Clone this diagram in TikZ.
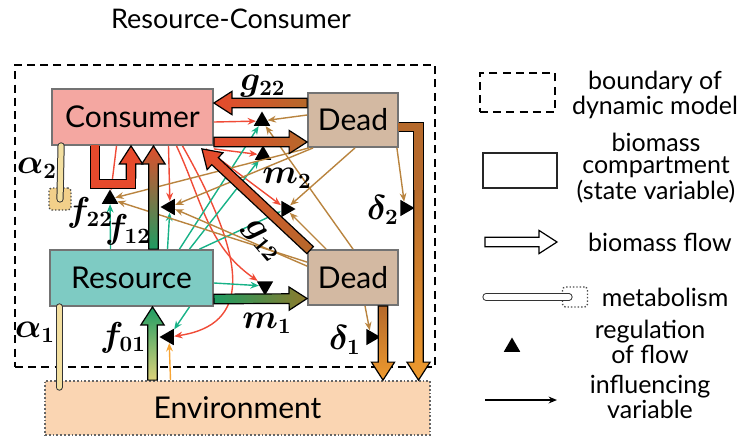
\documentclass[tikz,border=0pt]{standalone}
\usepackage{fontspec}
\setmainfont{Lato}
\usetikzlibrary{arrows.meta,calc,shapes.geometric}

\definecolor{conspink}{HTML}{F4A7A1}
\definecolor{deadtan}{HTML}{D3B9A2}
\definecolor{resteal}{HTML}{7ECBC3}
\definecolor{envorange}{HTML}{FAD5B2}
\definecolor{infred}{HTML}{F04B37}
\definecolor{infgreen}{HTML}{17B287}
\definecolor{infbrown}{HTML}{B9843F}
\definecolor{inforange}{HTML}{F7A535}
\definecolor{flowred}{HTML}{E64A2C}
\definecolor{flowbrown}{HTML}{B5692B}
\definecolor{flowgreen}{HTML}{1E9C62}
\definecolor{flowolive}{HTML}{8E7A2C}
\definecolor{flowamber}{HTML}{EE9A2E}
\definecolor{flowpale}{HTML}{DDD27A}
\definecolor{metayellow}{HTML}{F3DFA0}
\definecolor{metablob}{HTML}{F2D08A}

\tikzset{
  comp/.style={draw=black!55, line width=0.9pt, inner sep=0pt,
    font=\fontsize{15}{18}\selectfont},
  bound/.style={draw, line width=1.4pt, dash pattern=on 4pt off 2.6pt},
  reg/.style={regular polygon, regular polygon sides=3, fill=black,
    inner sep=0pt, minimum size=9.5pt},
  infl/.style={line width=0.7pt, -{Stealth[length=4.2pt,width=3.4pt]}},
  flowline/.style={draw=black, line width=0.6pt, line join=miter},
  meta/.style={draw=black!80, line width=0.5pt, double=metayellow,
    double distance=2.6pt, line cap=round},
  blob/.style={draw=black!70, densely dotted, line width=0.7pt,
    rounded corners=1.5pt, inner sep=0pt},
  lbl/.style={font=\fontsize{16}{18}\selectfont\boldmath, inner sep=1pt},
  legtxt/.style={font=\fontsize{12.5}{11}\selectfont, align=center}
}

% thick biomass flow: tail, head
\def\flowhw{2.4pt}
\def\flowhh{5.8pt}
\def\flowhl{9pt}
\newcommand\flow[3][]{%
  \draw[flowline,#1] ($#2!\flowhw!90:#3$) -- ($#3!\flowhl!#2!\flowhw!90:#3$)
    -- ($#3!\flowhl!#2!\flowhh!90:#3$) -- #3
    -- ($#3!\flowhl!#2!\flowhh!-90:#3$) -- ($#3!\flowhl!#2!\flowhw!-90:#3$)
    -- ($#2!\flowhw!-90:#3$) -- cycle;}

\begin{document}
\begin{tikzpicture}[x=0.5pt,y=-0.5pt]
  \useasboundingbox (0,0) rectangle (742,440);

  \node[font=\fontsize{13.5}{15}\selectfont] (title) at (231,19) {Resource-Consumer};
  \node[bound, minimum width=210pt, minimum height=151pt] (model) at (225,216) {};

  % compartments
  \node[comp, fill=conspink, minimum width=80.5pt, minimum height=28pt] (cons) at (132.5,117) {Consumer};
  \node[comp, fill=deadtan, minimum width=45pt, minimum height=27pt] (deadc) at (353,120) {Dead};
  \node[comp, fill=resteal, minimum width=81.5pt, minimum height=28pt] (res) at (131.5,278) {Resource};
  \node[comp, fill=deadtan, minimum width=45pt, minimum height=27.5pt] (deadr) at (353,277.5) {Dead};
  \node[comp, draw=black!60, densely dotted, fill=envorange, minimum width=192.5pt, minimum height=27pt] (env) at (237.5,408) {Environment};

  % regulation of flows
  \node[reg] (rg22) at (262,121) {};
  \node[reg] (rm2) at (263,155) {};
  \node[reg] (rf22) at (110,199) {};
  \node[reg, shape border rotate=90] (rf12) at (170,207) {};
  \node[reg, shape border rotate=-90] (rg12) at (286,209) {};
  \node[reg, shape border rotate=180] (rm1) at (265,286) {};
  \node[reg, shape border rotate=90] (rf01) at (169,337) {};
  \node[reg, shape border rotate=-90] (rd2) at (405,208) {};
  \node[reg, shape border rotate=-90] (rd1) at (371,337) {};

  % influences of consumer
  \draw[infl, infred] ($(cons.east)+(0,5)$) -- (rg22);
  \draw[infl, infred] ($(cons.south east)+(0,3)$) -- (rm2);
  \draw[infl, infred] ($(cons.south)+(-16,0)$) -- (rf22);
  \draw[infl, infred] ($(cons.south)+(36,0)$) -- (rf12);
  \draw[infl, infred] ($(cons.south east)+(-8,3)$) -- (rg12);
  \draw[infl, infred] ($(cons.south)+(44,0)$) to[out=-65,in=145] (rm1);
  \draw[infl, infred] ($(cons.south)+(50,0)$) .. controls (250,265) and (250,325) .. (rf01);

  % influences of resource
  \draw[infl, infgreen] ($(res.north)+(-21,0)$) -- (rf22);
  \draw[infl, infgreen] ($(res.north)+(36,0)$) -- (rf12);
  \draw[infl, infgreen] ($(res.north)+(48,0)$) -- (rg22);
  \draw[infl, infgreen] ($(res.north)+(58,0)$) -- (rm2);
  \draw[infl, infgreen] ($(res.north)+(68,0)$) -- (rg12);
  \draw[infl, infgreen] ($(res.east)+(0,5)$) -- (rm1);
  \draw[infl, infgreen] ($(res.south)+(58,0)$) -- (rf01);

  % influences of dead biomass
  \draw[infl, infbrown] ($(deadc.west)+(0,-5)$) -- (rg22);
  \draw[infl, infbrown] ($(deadc.south west)+(2,0)$) -- (rf22);
  \draw[infl, infbrown] ($(deadc.south west)+(6,0)$) -- (rf12);
  \draw[infl, infbrown] ($(deadc.south)+(2,0)$) -- (rg12);
  \draw[infl, infbrown] ($(deadc.south east)+(-2,0)$) -- (rd2);
  \draw[infl, infbrown] (deadr.north) -- (rg22);
  \draw[infl, infbrown] ($(deadr.north west)+(0,13)$) -- (rf22);
  \draw[infl, infbrown] ($(deadr.north west)+(0,17)$) -- (rf12);
  \draw[infl, infbrown] ($(deadr.north west)+(19,0)$) -- (rg12);
  \draw[infl, infbrown] ($(deadr.south)+(12,0)$) -- (rd1);
  \draw[infl, inforange] ($(env.north)+(-67,0)$) -- (rf01);

  % biomass flows
  \coordinate (g22t) at ($(deadc.west)+(0,-17)$);
  \coordinate (g22h) at ($(cons.east)+(0,-14)$);
  \coordinate (m2t) at ($(cons.east)+(0,25)$);
  \coordinate (m2h) at ($(deadc.west)+(0,22)$);
  \coordinate (g12t) at ($(deadr.north west)+(3,1)$);
  \coordinate (g12h) at ($(cons.south east)+(-12,3)$);
  \coordinate (f12t) at ($(res.north)+(22,0)$);
  \coordinate (f12h) at ($(cons.south)+(21,0)$);
  \coordinate (f01t) at ($(env.north)+(-85,0)$);
  \coordinate (f01h) at ($(res.south)+(21,0)$);
  \coordinate (m1t) at ($(res.east)+(0,21)$);
  \coordinate (m1h) at ($(deadr.west)+(0,21)$);
  \coordinate (d1t) at ($(deadr.south)+(30,0)$);
  \coordinate (d1h) at ($(env.north)+(145.5,0)$);
  \coordinate (d2s) at ($(deadc.east)+(0,7)$);
  \coordinate (d2h) at ($(env.north)+(181,0)$);
  \coordinate (d2m) at ($(d2h)+(0,-200)$);
  \coordinate (f22s) at ($(cons.south)+(-37.5,0)$);
  \coordinate (f22h) at ($(cons.south)+(-1.5,0)$);
  \coordinate (f22m) at ($(f22h)+(0,32)$);
  \coordinate (f22b) at ($(f22h)+(0,38)$);

  \flow[left color=flowred, right color=flowbrown]{(g22t)}{(g22h)}
  \flow[left color=flowred, right color=flowbrown]{(m2t)}{(m2h)}
  \flow[top color=flowred, bottom color=flowbrown]{(g12t)}{(g12h)}
  \flow[top color=flowred!85!flowbrown, bottom color=flowgreen]{(f12t)}{(f12h)}
  \flow[top color=flowgreen, bottom color=flowpale]{(f01t)}{(f01h)}
  \flow[left color=flowgreen, right color=flowolive]{(m1t)}{(m1h)}
  \flow[top color=flowbrown, bottom color=flowamber]{(d1t)}{(d1h)}
  \flow[top color=flowbrown, bottom color=flowamber]{(d2m)}{(d2h)}
  \draw[line width=5.4pt, line join=miter] (d2s) -| ($(d2m)+(0,8)$);
  \draw[line width=4.2pt, flowbrown, line join=miter] ($(d2s)+(-1,0)$) -| ($(d2m)+(0,10)$);
  \flow[fill=flowred]{(f22m)}{(f22h)}
  \draw[line width=5.4pt, line join=miter] (f22s) |- (f22b) -- ($(f22b)+(0,-12)$);
  \draw[line width=4.2pt, flowred, line join=miter] ($(f22s)+(0,-1)$) |- (f22b) -- ($(f22b)+(0,-14)$);

  % metabolism
  \node[blob, fill=metablob, minimum width=11pt, minimum height=11pt] (a2blob) at (60,199) {};
  \draw[meta] ($(cons.south west)+(10,0)$) -- (a2blob.center);
  \coordinate (a1e) at ($(env.north west)+(15,7)$);
  \draw[meta] ($(res.south west)+(10,0)$) -- (a1e);

  % labels
  \node[lbl] (lg22) at (263,86) {$g_{22}$};
  \node[lbl] (lm2) at (287,178) {$m_2$};
  \node[lbl, rotate=-50] (lg12) at (262,241) {$g_{12}$};
  \node[lbl] (lm1) at (267,323) {$m_1$};
  \node[lbl] (lf22) at (90,213) {$f_{22}$};
  \node[lbl] (lf12) at (128,230) {$f_{12}$};
  \node[lbl] (lf01) at (123,338) {$f_{01}$};
  \node[lbl] (la2) at (37,168) {$\alpha_2$};
  \node[lbl] (la1) at (35,332) {$\alpha_1$};
  \node[lbl] (ld2) at (383,210) {$\delta_2$};
  \node[lbl] (ld1) at (345,340) {$\delta_1$};

  % legend
  \node[bound, minimum width=37.5pt, minimum height=19.5pt] (lgbound) at (517.5,92.5) {};
  \node[legtxt] (lgboundtxt) at (655,95) {boundary of\\dynamic model};
  \node[comp, draw=black!85, minimum width=37pt, minimum height=17.5pt] (lgcomp) at (520,170.5) {};
  \node[legtxt] (lgcomptxt) at (656,168) {biomass\\compartment\\(state variable)};
  \coordinate (lgflowt) at (485,242);
  \coordinate (lgflowh) at (557,242);
  \flow[fill=white]{(lgflowt)}{(lgflowh)}
  \node[legtxt] (lgflowtxt) at (660,242) {biomass flow};
  \node[blob, minimum width=12.5pt, minimum height=10pt] (lgblob) at (575,297) {};
  \coordinate (lgmetas) at (486,297);
  \draw[meta, double=white] (lgmetas) -- ($(lgblob.center)+(-6,0)$);
  \node[legtxt] (lgmetatxt) at (665,297) {metabolism};
  \node[reg] (lgreg) at (512,347) {};
  \node[legtxt] (lgregtxt) at (650,342) {regulation\\of flow};
  \coordinate (lginfs) at (485,400);
  \coordinate (lginfh) at (557,400);
  \draw[infl] (lginfs) -- (lginfh);
  \node[legtxt] (lginftxt) at (650,397) {influencing\\variable};
\end{tikzpicture}
\end{document}
